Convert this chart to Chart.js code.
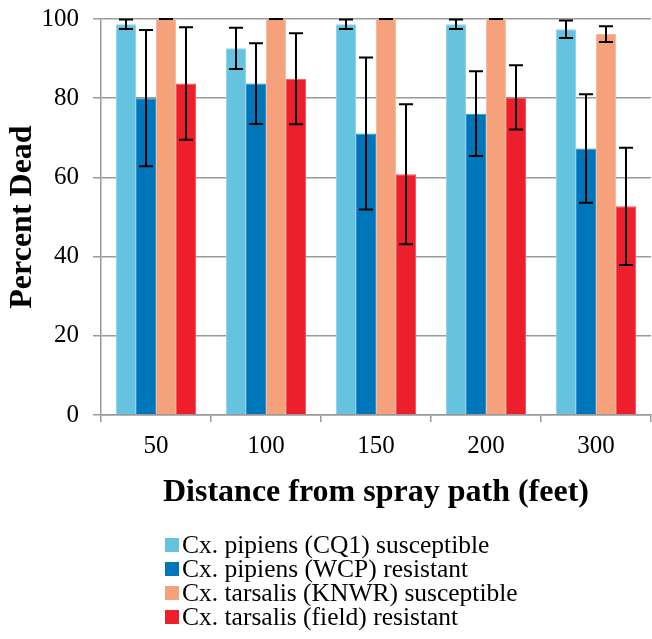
<!DOCTYPE html>
<html>
<head>
<meta charset="utf-8">
<script src="https://cdn.jsdelivr.net/npm/chart.js@4/dist/chart.umd.min.js"></script>
<style>
  html, body { margin: 0; padding: 0; background: #fff; }
  #wrap { position: relative; width: 652px; height: 639px; }
  #legend { position: absolute; left: 165px; top: 533px; font-family: "Liberation Serif", "Times New Roman", serif; font-size: 25.5px; color: #000; line-height: 24px; }
  #legend .item { display: flex; align-items: center; white-space: nowrap; height: 24px; }
  #legend .box { width: 14px; height: 14px; margin-right: 3px; flex: none; }
</style>
</head>
<body>
<div id="wrap">
  <canvas id="chart" width="652" height="639"></canvas>
  <div id="legend"></div>
</div>
<script>
// Data
const distances = ["50", "100", "150", "200", "300"];
const seriesLabels = [
  "Cx. pipiens (CQ1) susceptible",
  "Cx. pipiens (WCP) resistant",
  "Cx. tarsalis (KNWR) susceptible",
  "Cx. tarsalis (field) resistant"
];
const cq1 = [98.7, 92.6, 98.7, 98.7, 97.4];
const wcp = [80.0, 83.7, 71.1, 76.1, 67.3];
const knwr = [100, 100, 100, 100, 96.2];
const field = [83.7, 84.9, 60.8, 80.2, 52.7];
const cq1Err = [1.2, 5.2, 1.2, 1.2, 2.2];
const wcpErr = [17.2, 10.2, 19.2, 10.7, 13.7];
const knwrErr = [0, 0, 0, 0, 2.0];
const fieldErr = [14.2, 11.5, 17.7, 8.1, 14.8];
const yTicks = [0, 20, 40, 60, 80, 100];

const colors = ["#66C3E0", "#0076BA", "#F5A27C", "#EE1F2D"];
const borders = ["#8FD3EA", "#2F8FCA", "#F8BBA0", "#F2565F"];
const values = [cq1, wcp, knwr, field];
const errors = [cq1Err, wcpErr, knwrErr, fieldErr];

// Error bars plugin
const errorBars = {
  id: "errorBars",
  afterDatasetsDraw(chart) {
    const ctx = chart.ctx;
    const y = chart.scales.y;
    ctx.save();
    ctx.strokeStyle = "#000";
    ctx.lineWidth = 2;
    chart.data.datasets.forEach((ds, i) => {
      const meta = chart.getDatasetMeta(i);
      meta.data.forEach((bar, j) => {
        const v = ds.data[j];
        const e = ds.errors[j];
        const top = y.getPixelForValue(Math.min(v + e, 100));
        const bot = y.getPixelForValue(v - e);
        const x = bar.x;
        ctx.beginPath();
        ctx.moveTo(x, top); ctx.lineTo(x, bot);
        ctx.moveTo(x - 7, top); ctx.lineTo(x + 7, top);
        ctx.moveTo(x - 7, bot); ctx.lineTo(x + 7, bot);
        ctx.stroke();
      });
    });
    ctx.restore();
  }
};

const serif = "'Liberation Serif', 'Times New Roman', serif";

const chart = new Chart(document.getElementById("chart").getContext("2d"), {
  type: "bar",
  data: {
    labels: distances,
    datasets: seriesLabels.map((label, i) => ({
      label: label,
      data: values[i],
      errors: errors[i],
      backgroundColor: colors[i],
      borderColor: borders[i],
      borderWidth: 1,
      barPercentage: 1,
      categoryPercentage: 0.727
    }))
  },
  options: {
    responsive: false,
    animation: false,
    layout: { padding: { top: 0, right: 1, left: 0, bottom: 127 } },
    plugins: {
      legend: { display: false },
      tooltip: { enabled: false }
    },
    scales: {
      x: {
        afterFit(axis) { axis.height = 97; },
        grid: { drawOnChartArea: false, drawTicks: true, tickLength: 7, color: "#9a9a9a", lineWidth: 1.5 },
        border: { color: "#9a9a9a", width: 1.5 },
        ticks: { color: "#000", font: { family: serif, size: 25 }, padding: 9 },
        title: { display: true, text: "Distance from spray path (feet)", color: "#000", font: { family: serif, size: 32, weight: "bold" }, padding: { top: 13, bottom: 0 } }
      },
      y: {
        min: 0,
        max: 100,
        afterBuildTicks(axis) { axis.ticks = yTicks.map(v => ({ value: v })); },
        afterFit(axis) { axis.width = 101; axis.paddingTop = 19; axis.paddingBottom = 15; },
        grid: { color: "#9a9a9a", lineWidth: 1.5, tickLength: 8 },
        border: { color: "#9a9a9a", width: 1.5 },
        ticks: { color: "#000", font: { family: serif, size: 25 }, padding: 14 },
        title: { display: true, text: "Percent Dead", color: "#000", font: { family: serif, size: 32, weight: "bold" }, padding: { top: 4, bottom: 0 } }
      }
    }
  },
  plugins: [errorBars]
});

// HTML legend, one item per row
const legendEl = document.getElementById("legend");
seriesLabels.forEach((label, i) => {
  const item = document.createElement("div");
  item.className = "item";
  const box = document.createElement("span");
  box.className = "box";
  box.style.background = colors[i];
  const txt = document.createElement("span");
  txt.textContent = label;
  item.appendChild(box);
  item.appendChild(txt);
  legendEl.appendChild(item);
});
</script>
</body>
</html>
